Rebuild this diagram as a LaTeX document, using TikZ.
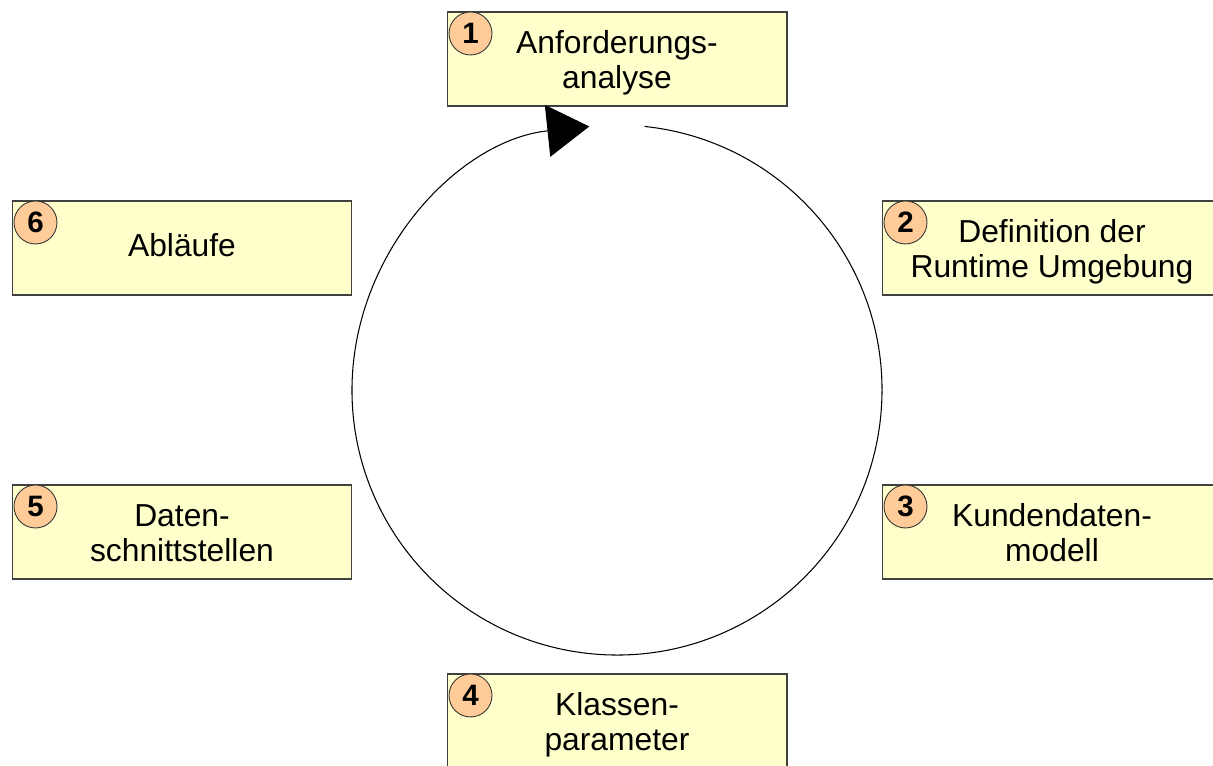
\documentclass[tikz,border=0pt]{standalone}
\usepackage{fontspec}
\setmainfont{Liberation Sans}
\usetikzlibrary{arrows.meta}
\definecolor{boxfill}{HTML}{FFFFCC}
\definecolor{badgefill}{HTML}{FFCC99}
% uniform depth below the last line, so that descenders do not move the text
\newcommand\phstrut{\rule[-0.22em]{0pt}{0.22em}}
% a little extra room above the first line of two-line labels
\newcommand\topline{\rule{0pt}{0.98em}}
\begin{document}
\begin{tikzpicture}[x=0.02cm,y=0.02cm,
  phase/.style={draw=black!75, line width=0.6pt, fill=boxfill,
    minimum width=6.8cm, minimum height=1.88cm, inner sep=0pt,
    align=center, font=\fontsize{18.1pt}{19.9pt}\selectfont,
    execute at end node=\phstrut},
  badge/.style={circle, draw=black!80, line width=0.5pt, fill=badgefill,
    minimum size=0.86cm, inner sep=0pt,
    font=\fontsize{16.8pt}{18pt}\selectfont\bfseries},
  cycle/.style={line width=0.6pt, -{Triangle[length=0.84cm, width=1.04cm]}}]
  \useasboundingbox (0,0) rectangle (1213,-765);

  % the six phases around the cycle
  \node[phase] (p1) at (617,-59)  {\topline Anforderungs-\\analyse};
  \node[phase] (p2) at (1052,-248) {\topline Definition der\\Runtime Umgebung};
  \node[phase] (p3) at (1052,-532) {\topline Kundendaten-\\modell};
  \node[phase] (p4) at (617,-721) {\topline Klassen-\\parameter};
  \node[phase] (p5) at (182,-532) {\topline Daten-\\schnittstellen};
  \node[phase] (p6) at (182,-248) {Abläufe};

  % numbered badges in the top-left corners
  \foreach \i in {1,...,6}
    \node[badge] (b\i) at ([xshift=0.48cm, yshift=-0.44cm]p\i.north west) {\i};

  % the cycle itself
  \coordinate (c) at (617,-390);
  \draw[cycle] ([shift={(84:265)}]c) arc[start angle=84, end angle=-264, radius=265];
\end{tikzpicture}
\end{document}
